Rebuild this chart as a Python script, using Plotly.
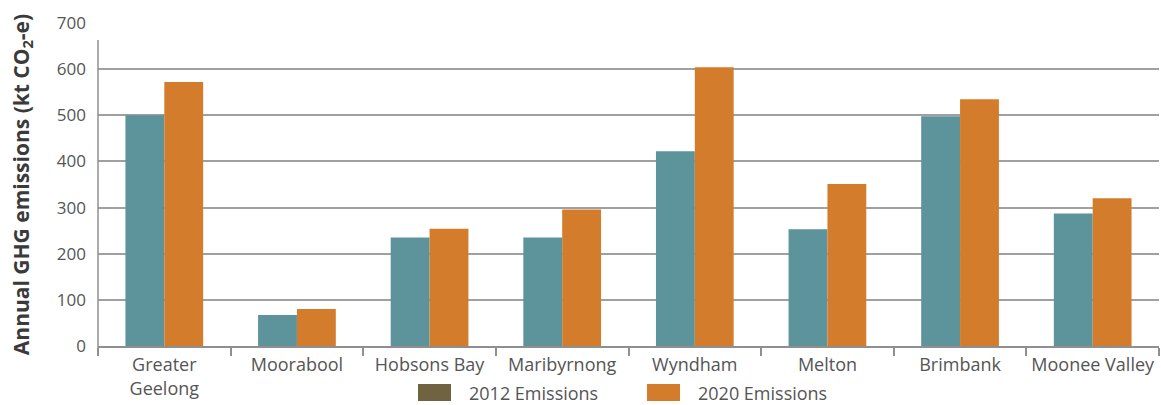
import plotly.graph_objects as go

# Municipalities and annual greenhouse gas emissions (kt CO2-e)
councils = ["Greater<br>Geelong", "Moorabool", "Hobsons Bay", "Maribyrnong",
            "Wyndham", "Melton", "Brimbank", "Moonee Valley"]
emissions_2012 = [500, 67, 235, 235, 422, 253, 498, 287]
emissions_2020 = [572, 80, 254, 296, 604, 351, 535, 320]
y_ticks = [0, 100, 200, 300, 400, 500, 600, 700]
legend_labels = ["2012 Emissions", "2020 Emissions"]

TEAL = "#5d939b"
ORANGE = "#d37d2c"
OLIVE = "#6f6342"
FONT = "Open Sans"
TEXT = "#555555"

W, H = 1161, 405
L, R, T, B = 98, 2, 23, 59
plot_w, plot_h = W - L - R, H - T - B


def px_x(px):
    return (px - L) / plot_w


def px_y(py):
    return (H - B - py) / plot_h


fig = go.Figure()
fig.add_trace(go.Bar(x=councils, y=emissions_2012, marker_color=TEAL,
                     marker_line_width=0, showlegend=False, name=legend_labels[0]))
fig.add_trace(go.Bar(x=councils, y=emissions_2020, marker_color=ORANGE,
                     marker_line_width=0, showlegend=False, name=legend_labels[1]))

# Hand-drawn legend: wide colour swatches followed by labels
swatches = [(418, OLIVE), (647, ORANGE)]
shapes = []
annotations = []
for (x0, colour), label in zip(swatches, legend_labels):
    shapes.append(dict(type="rect", xref="paper", yref="paper",
                       x0=px_x(x0), x1=px_x(x0 + 33), y0=px_y(401), y1=px_y(384),
                       fillcolor=colour, line_width=0))
    annotations.append(dict(text=label, xref="paper", yref="paper",
                            x=px_x(x0 + 49), y=px_y(393), xanchor="left",
                            yanchor="middle", showarrow=False,
                            font=dict(family=FONT, size=18, color=TEXT)))

# Vertical axis rule, running from just below the top gridline past the baseline
shapes.append(dict(type="line", xref="paper", yref="paper", x0=0, x1=0,
                   y0=px_y(40), y1=px_y(355), line=dict(color="#8f8f8f", width=1.5)))

fig.update_layout(
    width=W, height=H,
    margin=dict(l=L, r=R, t=T, b=B, autoexpand=False),
    plot_bgcolor="white", paper_bgcolor="white",
    barmode="group", bargap=0.414, bargroupgap=0,
    font=dict(family=FONT, size=18, color=TEXT),
    showlegend=False,
    xaxis=dict(
        showgrid=False, showline=True, linecolor="#8f8f8f", linewidth=1.5,
        ticks="outside", tickson="boundaries", ticklen=8, tickwidth=1.5,
        tickcolor="#8f8f8f", ticklabelstandoff=2, tickangle=0,
        tickfont=dict(family=FONT, size=18, color=TEXT),
    ),
    yaxis=dict(
        range=[0, 700], tickvals=y_ticks, showgrid=True, gridcolor="#a0a0a0",
        gridwidth=1.5, zeroline=False, showline=False, ticks="",
        ticklabelstandoff=11, tickfont=dict(family=FONT, size=17, color=TEXT),
        title=dict(text="<b>Annual GHG emissions (kt CO<sub>2</sub>-e)</b>",
                   font=dict(size=21, color="#3a3a3a", family=FONT),
                   standoff=21),
    ),
    shapes=shapes,
    annotations=annotations,
)

fig.write_html("out.html")
